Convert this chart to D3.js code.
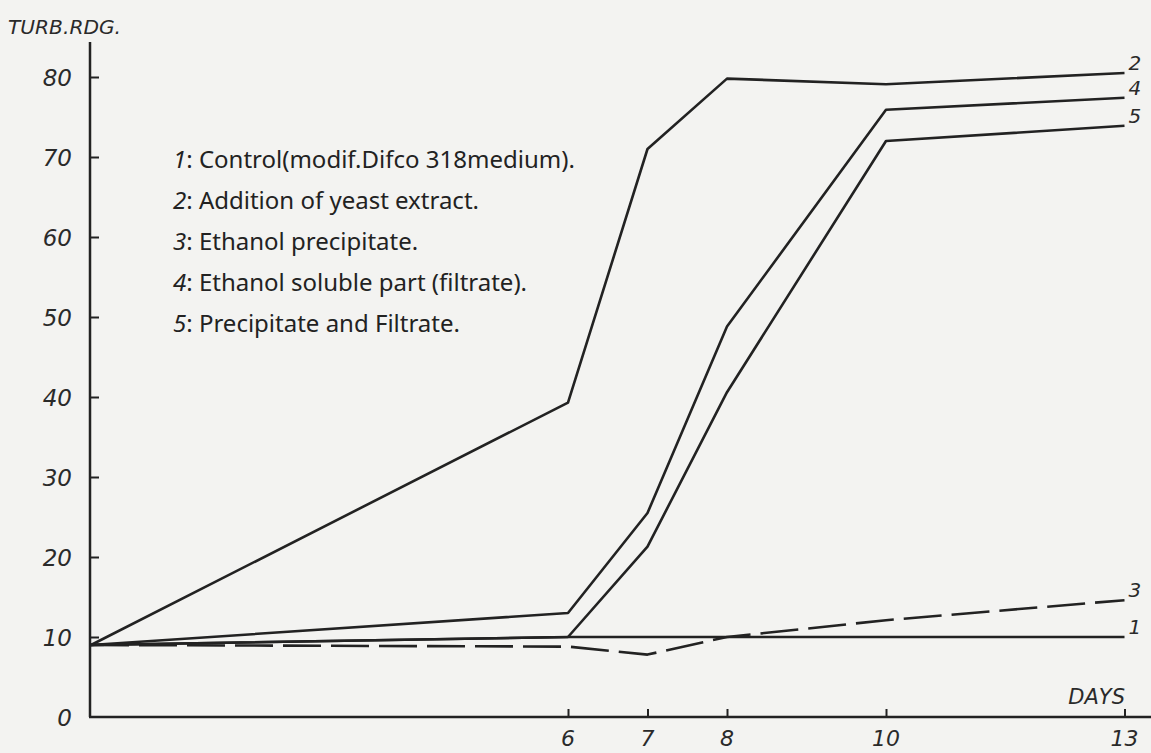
<!DOCTYPE html>
<html>
<head>
<meta charset="utf-8">
<script src="https://cdn.jsdelivr.net/npm/d3@7"></script>
<style>
html,body{margin:0;padding:0;background:#f3f3f1;}
svg{display:block;}
.num{font-family:"DejaVu Sans",sans-serif;font-style:italic;fill:#2a2a2a;}
.leg{font-family:"Noto Sans",sans-serif;fill:#222;}
</style>
</head>
<body>
<script>
// ---- data ----
const days = [0, 6, 7, 8, 10, 13];
const series1 = [9, 10, 10, 10, 10, 10];
const series2 = [9, 39.3, 71, 79.8, 79.1, 80.5];
const series3 = [9, 8.8, 7.8, 10, 12.1, 14.6];
const series4 = [9, 13, 25.5, 48.8, 75.9, 77.4];
const series5 = [9, 10, 21.3, 40.6, 72, 73.9];
const seriesIds = ["1", "2", "3", "4", "5"];
const yTicks = [0, 10, 20, 30, 40, 50, 60, 70, 80];
const xTicks = [6, 7, 8, 10, 13];
const legendNums = ["1", "2", "3", "4", "5"];
const legendTexts = [
  "Control(modif.Difco 318medium).",
  "Addition of yeast extract.",
  "Ethanol precipitate.",
  "Ethanol soluble part (filtrate).",
  "Precipitate and Filtrate."
];
const yTitle = "TURB.RDG.";
const xTitle = "DAYS";

const W = 1151, H = 753;
const svg = d3.select("body").append("svg").attr("width", W).attr("height", H);

const x = d3.scaleLinear().domain([0, 13]).range([91, 1124.5]);
const y = d3.scaleLinear().domain([0, 80]).range([717, 77]);
const ink = "#222";

// axes lines
svg.append("line").attr("x1", 90).attr("x2", 90).attr("y1", 42).attr("y2", y(0))
  .attr("stroke", ink).attr("stroke-width", 2.5);
svg.append("line").attr("x1", 89).attr("x2", W).attr("y1", y(0)).attr("y2", y(0))
  .attr("stroke", ink).attr("stroke-width", 2.5);

// y axis ticks
const yAxis = d3.axisRight(y).tickValues(yTicks.filter(d => d > 0)).tickSize(9).tickFormat("");
const gy = svg.append("g").attr("transform", "translate(90,0)").call(yAxis);
gy.select(".domain").remove();
gy.selectAll(".tick line").attr("stroke", ink).attr("stroke-width", 2);

svg.selectAll(".ylab").data(yTicks).enter().append("text")
  .attr("class", "num").attr("x", 72).attr("y", d => y(d) + 8.5)
  .attr("text-anchor", "end").attr("font-size", 23).text(d => d);

// x axis ticks
const xAxis = d3.axisTop(x).tickValues(xTicks).tickSize(8).tickFormat("");
const gx = svg.append("g").attr("transform", `translate(0,${y(0)})`).call(xAxis);
gx.select(".domain").remove();
gx.selectAll(".tick line").attr("stroke", ink).attr("stroke-width", 2);

svg.selectAll(".xlab").data(xTicks).enter().append("text")
  .attr("class", "num").attr("x", d => x(d)).attr("y", 746)
  .attr("text-anchor", "middle").attr("font-size", 22).text(d => d);

// titles
svg.append("text").attr("class", "num").attr("x", 8).attr("y", 34)
  .attr("font-size", 19).attr("textLength", 113).attr("lengthAdjust", "spacingAndGlyphs").text(yTitle);
svg.append("text").attr("class", "num").attr("x", 1125).attr("y", 704)
  .attr("text-anchor", "end").attr("font-size", 21).text(xTitle);

// lines
const allSeries = [series1, series2, series3, series4, series5];
const line = d3.line().x((d, i) => x(days[i])).y(d => y(d));
allSeries.forEach((s, k) => {
  svg.append("path").datum(s).attr("d", line)
    .attr("fill", "none").attr("stroke", ink).attr("stroke-width", 2.6)
    .attr("stroke-linejoin", "round")
    .attr("stroke-dasharray", seriesIds[k] === "3" ? "38,10" : null);
});

// end labels
allSeries.forEach((s, k) => {
  svg.append("text").attr("class", "num").attr("x", x(13) + 4)
    .attr("y", y(s[s.length - 1]) - 3).attr("font-size", 20).text(seriesIds[k]);
});

// legend
const legY = [168, 209, 250, 291, 332];
legendTexts.forEach((t, i) => {
  const tx = svg.append("text").attr("class", "leg").attr("x", 173).attr("y", legY[i]).attr("font-size", 24);
  tx.append("tspan").attr("font-style", "italic").text(legendNums[i]);
  tx.append("tspan").text(": " + t);
});
</script>
</body>
</html>
